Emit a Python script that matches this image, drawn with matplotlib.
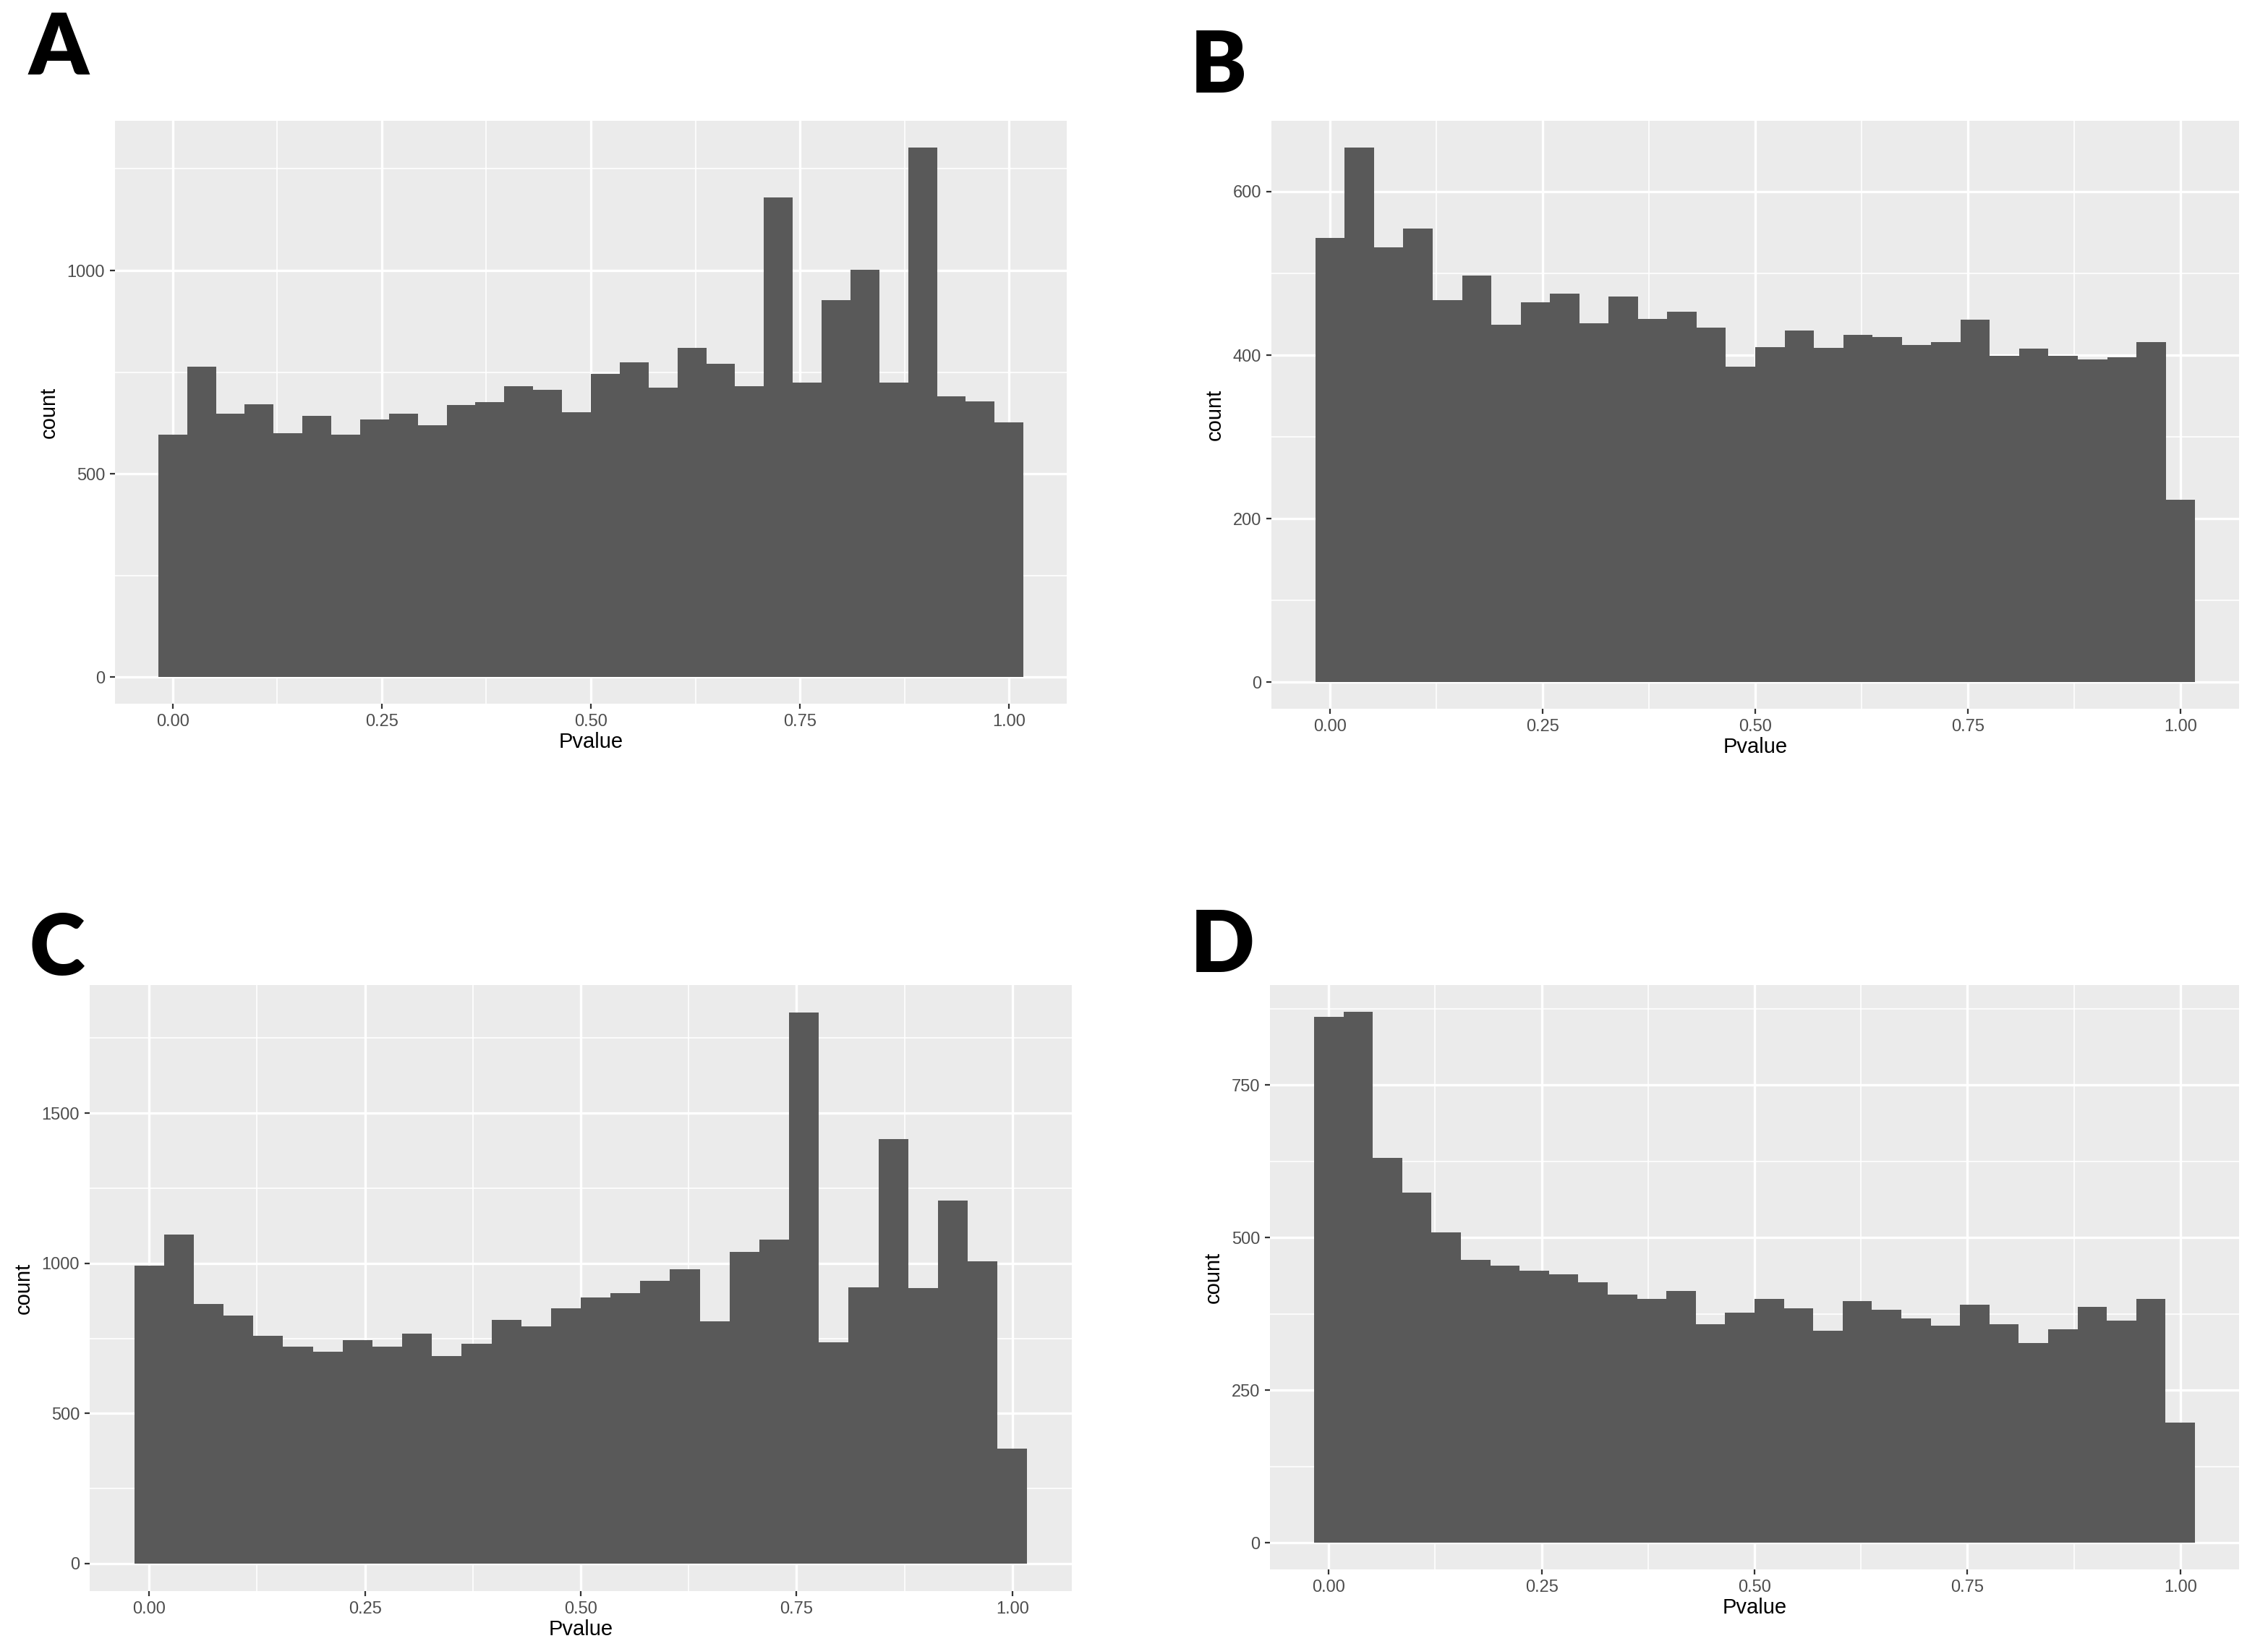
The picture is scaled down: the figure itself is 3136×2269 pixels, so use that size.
import numpy as np
import matplotlib
matplotlib.use("Agg")
import matplotlib.pyplot as plt

# counts per bin (30 bins, centred on 0 .. 1)
counts_a = [597, 763, 648, 671, 600, 642, 597, 633, 648, 620,
            669, 676, 716, 707, 652, 745, 774, 712, 810, 771,
            715, 1180, 724, 927, 1002, 724, 1303, 691, 678, 627]
counts_b = [543, 654, 532, 555, 467, 497, 437, 465, 475, 439,
            472, 444, 453, 434, 386, 410, 430, 409, 425, 422,
            412, 416, 443, 399, 408, 399, 395, 397, 416, 223]
counts_c = [993, 1096, 864, 826, 758, 723, 706, 743, 723, 765,
            690, 732, 812, 790, 851, 886, 900, 942, 981, 807,
            1039, 1078, 1835, 736, 920, 1413, 917, 1210, 1006, 383]
counts_d = [861, 870, 630, 573, 508, 464, 454, 446, 440, 427,
            406, 399, 413, 358, 377, 399, 384, 347, 396, 382,
            368, 356, 390, 358, 327, 350, 387, 364, 399, 197]

x_ticks = [0.0, 0.25, 0.5, 0.75, 1.0]
x_ticklabels = ["0.00", "0.25", "0.50", "0.75", "1.00"]
y_ticks_a = [0, 500, 1000]
y_ticks_b = [0, 200, 400, 600]
y_ticks_c = [0, 500, 1000, 1500]
y_ticks_d = [0, 250, 500, 750]
panel_labels = ["A", "B", "C", "D"]

N_BINS = 30
BAR = "#595959"
BG = "#EBEBEB"
TICK_FONT = ["Liberation Sans Narrow", "Liberation Sans", "DejaVu Sans"]

W, H = 3136, 2269
fig = plt.figure(figsize=(W / 200, H / 200), dpi=200)


def px_axes(x0, y0, x1, y1):
    """axes from pixel box (top-left origin)"""
    return fig.add_axes([x0 / W, 1 - y1 / H, (x1 - x0) / W, (y1 - y0) / H])


def gg_hist(ax, counts, yticks):
    bw = 1 / (N_BINS - 1)
    edges = np.linspace(-bw / 2, 1 + bw / 2, N_BINS + 1)
    ax.stairs(counts, edges, fill=True, color=BAR, linewidth=0)
    ax.set_facecolor(BG)
    for s in ax.spines.values():
        s.set_visible(False)
    span = edges[-1] - edges[0]
    ax.set_xlim(edges[0] - 0.05 * span, edges[-1] + 0.05 * span)
    top = max(counts)
    ax.set_ylim(-0.05 * top, 1.05 * top)
    ax.set_xticks(x_ticks)
    ax.set_xticklabels(x_ticklabels)
    ax.set_yticks(yticks)
    ax.set_yticklabels([str(v) for v in yticks])
    ax.set_xticks([0.125, 0.375, 0.625, 0.875], minor=True)
    step = yticks[1] - yticks[0]
    ymin = [v + step / 2 for v in yticks if v + step / 2 < 1.05 * top]
    ax.set_yticks(ymin, minor=True)
    ax.grid(True, which="major", color="white", linewidth=1.2)
    ax.grid(True, which="minor", color="white", linewidth=0.6)
    ax.set_axisbelow(True)
    ax.tick_params(which="major", length=2.5, width=0.8, color="#333333",
                   labelcolor="#4D4D4D", labelsize=8.5, pad=2.5)
    ax.tick_params(which="minor", length=0)
    for lab in ax.get_xticklabels() + ax.get_yticklabels():
        lab.set_family(TICK_FONT)
    ax.set_xlabel("Pvalue", fontsize=10.5, family=TICK_FONT, labelpad=1)
    ax.set_ylabel("count", fontsize=10.5, family=TICK_FONT, labelpad=4)


ax_a = px_axes(159, 167, 1475, 973)
gg_hist(ax_a, counts_a, y_ticks_a)
ax_b = px_axes(1758, 167, 3096, 980)
gg_hist(ax_b, counts_b, y_ticks_b)
ax_c = px_axes(124, 1362, 1482, 2200)
gg_hist(ax_c, counts_c, y_ticks_c)
ax_d = px_axes(1756, 1362, 3096, 2170)
gg_hist(ax_d, counts_d, y_ticks_d)

label_pos = [(40, 15), (1646, 40), (40, 1260), (1646, 1256)]
for lab, (px, py) in zip(panel_labels, label_pos):
    fig.text(px / W, 1 - py / H, lab, ha="left", va="top", fontsize=42,
             fontweight="heavy", family=["Lato", "DejaVu Sans"])

fig.savefig("out.png", dpi=200, facecolor="white")
